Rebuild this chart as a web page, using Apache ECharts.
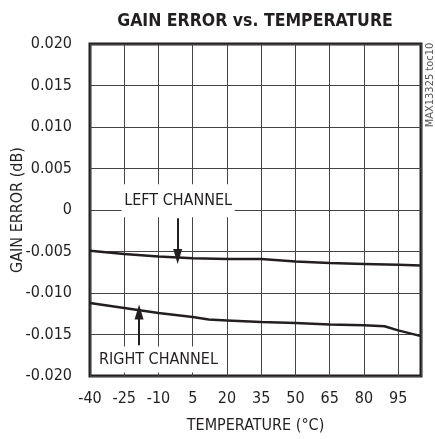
<!DOCTYPE html>
<html>
<head>
<meta charset="utf-8">
<script src="https://cdn.jsdelivr.net/npm/echarts@6/dist/echarts.min.js"></script>
<style>
  html, body { margin: 0; padding: 0; background: #fff; }
  #chart { width: 435px; height: 439px; }
</style>
</head>
<body>
<div id="chart"></div>
<script>
// temperature (°C) and gain error (dB)
var leftTemp = [-40, -25, -10, 5, 20, 35, 50, 65, 80, 95, 105];
var leftGain = [-0.0049, -0.0053, -0.0056, -0.0058, -0.0059, -0.0059, -0.0062, -0.0064, -0.0065, -0.0066, -0.0067];

var rightTemp = [-40, -25, -10, 5, 12, 20, 35, 50, 65, 80, 89, 95, 105];
var rightGain = [-0.0112, -0.0118, -0.0124, -0.0129, -0.0132, -0.0133, -0.0135, -0.0136, -0.0138, -0.0139, -0.0140, -0.0145, -0.0152];

var xTicks = [-40, -25, -10, 5, 20, 35, 50, 65, 80, 95];
var yTicks = [-0.020, -0.015, -0.010, -0.005, 0, 0.005, 0.010, 0.015, 0.020];

var FONT = "'Liberation Sans Narrow', 'DejaVu Sans Condensed', 'Liberation Sans', sans-serif";

function pairs(xs, ys) {
  return xs.map(function (x, i) { return [x, ys[i]]; });
}

var chart = echarts.init(document.getElementById("chart"));

var option = {
  animation: false,
  backgroundColor: "#ffffff",
  textStyle: { fontFamily: FONT },
  title: {
    text: "GAIN ERROR vs. TEMPERATURE",
    left: 250,
    top: 7,
    textAlign: "center",
    textStyle: { fontFamily: FONT, fontSize: 17.5, fontWeight: "bold", color: "#231f20" },
  },
  grid: {
    left: 90,
    right: 14,
    top: 44,
    bottom: 63,
    containLabel: false,
    outerBoundsMode: "none",
    show: true,
    borderColor: "#231f20",
    borderWidth: 3,
    backgroundColor: "transparent",
  },
  xAxis: {
    type: "value",
    min: -40,
    max: 105,
    interval: 15,
    name: "TEMPERATURE (°C)",
    nameLocation: "middle",
    nameGap: 42,
    nameMoveOverlap: false,
    nameTextStyle: { fontFamily: FONT, fontSize: 16, color: "#231f20" },
    axisLine: { show: false },
    axisTick: { show: false },
    axisLabel: {
      margin: 15,
      fontFamily: FONT,
      fontSize: 16,
      color: "#231f20",
      showMaxLabel: false,
      formatter: function (v) {
        return xTicks.indexOf(v) >= 0 ? String(v) : "";
      },
    },
    splitLine: { show: true, lineStyle: { color: "#444", width: 1 } },
  },
  yAxis: {
    type: "value",
    min: -0.02,
    max: 0.02,
    interval: 0.005,
    name: "GAIN ERROR (dB)",
    nameLocation: "middle",
    nameGap: 64,
    nameMoveOverlap: false,
    nameTextStyle: { fontFamily: FONT, fontSize: 16, color: "#231f20" },
    axisLine: { show: false },
    axisTick: { show: false },
    axisLabel: {
      margin: 18,
      fontFamily: FONT,
      fontSize: 16,
      color: "#231f20",
      formatter: function (v) {
        var best = yTicks.reduce(function (a, b) {
          return Math.abs(b - v) < Math.abs(a - v) ? b : a;
        });
        return best === 0 ? "0" : best.toFixed(3);
      },
    },
    splitLine: { show: true, lineStyle: { color: "#444", width: 1 } },
  },
  graphic: [
    {
      type: "text",
      x: 430,
      y: 85,
      rotation: Math.PI / 2,
      style: {
        text: "MAX13325 toc10",
        x: 0,
        y: 0,
        align: "center",
        verticalAlign: "middle",
        fontFamily: FONT,
        fontSize: 11,
        fill: "#555",
      },
    },
  ],
  series: [
    {
      name: "LEFT CHANNEL",
      type: "line",
      data: pairs(leftTemp, leftGain),
      showSymbol: false,
      lineStyle: { color: "#231f20", width: 2.5 },
      markLine: {
        silent: true,
        symbol: ["none", "triangle"],
        symbolSize: [9, 15],
        label: { show: false },
        lineStyle: { color: "#231f20", width: 2, type: "solid" },
        data: [[{ coord: [-1.6, -0.001] }, { coord: [-1.6, -0.0056] }]],
      },
      markPoint: {
        silent: true,
        symbol: "rect",
        symbolSize: [113, 33],
        itemStyle: { color: "#ffffff" },
        label: {
          show: true,
          formatter: "LEFT CHANNEL",
          fontFamily: FONT,
          fontSize: 16,
          color: "#231f20",
        },
        data: [{ coord: [-1.4, 0.0011] }],
      },
    },
    {
      name: "RIGHT CHANNEL",
      type: "line",
      data: pairs(rightTemp, rightGain),
      showSymbol: false,
      lineStyle: { color: "#231f20", width: 2.5 },
      markLine: {
        silent: true,
        symbol: ["none", "triangle"],
        symbolSize: [9, 15],
        label: { show: false },
        lineStyle: { color: "#231f20", width: 2, type: "solid" },
        data: [[{ coord: [-18.5, -0.0163] }, { coord: [-18.5, -0.0123] }]],
      },
      markPoint: {
        silent: true,
        symbol: "rect",
        symbolSize: [128, 26],
        itemStyle: { color: "#ffffff" },
        label: {
          show: true,
          formatter: "RIGHT CHANNEL",
          fontFamily: FONT,
          fontSize: 16,
          color: "#231f20",
        },
        data: [{ coord: [-10, -0.0180] }],
      },
    },
  ],
};

chart.setOption(option);
</script>
</body>
</html>
